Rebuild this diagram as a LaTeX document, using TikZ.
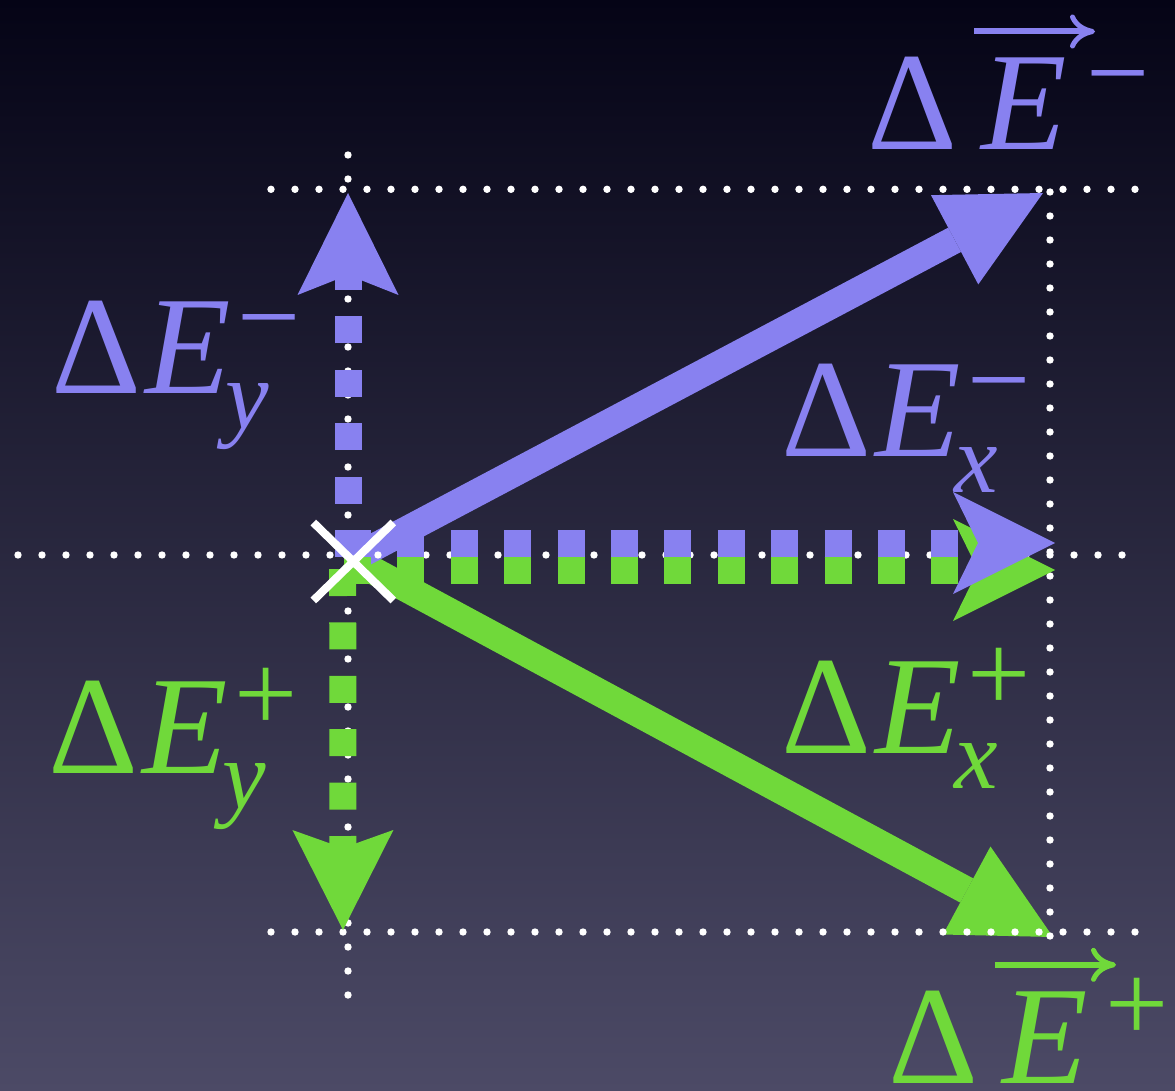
\documentclass[tikz,border=0pt]{standalone}
\usepackage{fontspec}
\newfontfamily\lf{Liberation Serif}
\usetikzlibrary{arrows.meta,shapes.misc}
\definecolor{bcol}{RGB}{136,129,240}
\definecolor{gcol}{RGB}{112,217,58}
\definecolor{bgtop}{RGB}{5,4,22}
\definecolor{bgbot}{RGB}{76,74,102}
\newcommand\Dsz{\fontsize{140}{140}\selectfont}
\newcommand\Ssz{\fontsize{98}{98}\selectfont}
\newcommand\Psz{\fontsize{112}{112}\selectfont}
% #1 E offset, #2 subscript, #3 sub offset, #4 sup sign, #5 sup offset, #6 sup raise
\newcommand\dlabel[6]{\hbox{\lf\Dsz\rlap{Δ}\rlap{\kern#1pt\itshape E}\rlap{\kern#3pt\lower35.5pt\hbox{\Ssz\itshape #2}}\kern#5pt\raise#6pt\hbox{\Psz #4}}}
\tikzset{
  shaft/.style={line width=27.5pt},
  dsh/.style={line width=27pt, dash pattern=on 27pt off 26.4pt},
  dot/.style={fill=white},
  lbl/.style={anchor=base west, inner sep=0pt, outer sep=0pt},
  vecarr/.style={line width=6pt, -{Computer Modern Rightarrow[length=25pt,width=34pt,line width=5pt]}},
}
\begin{document}
\begin{tikzpicture}[x=1pt,y=-1pt]
\useasboundingbox (0,0) rectangle (1175,1091);
\shade[top color=bgtop, bottom color=bgbot] (0,0) rectangle (1175,1091);

% anchor points
\coordinate (bS) at (348,561);
\coordinate (bT) at (1043,193);
\coordinate (gS) at (348,557);
\coordinate (gT) at (1053,937);
\coordinate (bhS) at (344,543);
\coordinate (bhT) at (1055,543);
\coordinate (ghS) at (344,570);
\coordinate (ghT) at (1055,570);
\coordinate (bvS) at (348,557);
\coordinate (bvT) at (348,193);
\coordinate (gvS) at (342.7,569);
\coordinate (gvT) at (343,930);

% solid arrows
\draw[gcol, shaft, -{Triangle[length=98pt,width=100pt,line width=0pt]}] (gS) -- (gT);
\draw[bcol, shaft, -{Triangle[length=100pt,width=101pt,line width=0pt]}] (bS) -- (bT);

% dotted guide lines
\foreach \x in {271,295,...,1135} {\fill[dot] (\x,189.3) circle (3.7); \fill[dot] (\x,932) circle (3.7);}
\foreach \x in {18,42,...,1122} {\fill[dot] (\x,555) circle (3.7);}
\foreach \y in {155,179,...,995} {\fill[dot] (348,\y) circle (3.7);}
\foreach \y in {192,216,...,936} {\fill[dot] (1050,\y) circle (3.7);}

% dashed component arrows
\draw[gcol, dsh, -{Stealth[length=102pt,width=102pt,inset=25pt,line width=0pt]}] (ghS) -- (ghT);
\draw[gcol, dsh, -{Stealth[length=100pt,width=101pt,inset=18pt,line width=0pt]}] (gvS) -- (gvT);
\draw[bcol, dsh, -{Stealth[length=102pt,width=102pt,inset=25pt,line width=0pt]}] (bhS) -- (bhT);
\draw[bcol, dsh, -{Stealth[length=102pt,width=101pt,inset=20pt,line width=0pt]}] (bvS) -- (bvT);

% origin cross
\node[cross out, draw=white, line width=8pt, minimum width=72pt, minimum height=70pt, inner sep=0pt] (o) at (353.3,561.5) {};

% labels
\node[lbl, text=bcol] (Lym) at (51.9,393.3) {\dlabel{94}{y}{174}{−}{186}{39}};
\node[lbl, text=bcol] (Lxm) at (781.9,456.7) {\dlabel{94}{x}{173}{−}{186}{39}};
\node[lbl, text=gcol] (Lyp) at (48.6,773.3) {\dlabel{94}{y}{174}{+}{186}{42}};
\node[lbl, text=gcol] (Lxp) at (781.9,753.3) {\dlabel{94}{x}{173}{+}{186}{42}};
\node[lbl, text=bcol] (L5) at (867.6,150) {\dlabel{114}{}{0}{−}{219}{39}};
\node[lbl, text=gcol] (L6) at (888.6,1083.3) {\dlabel{114}{}{0}{+}{217}{42}};
\draw[bcol, vecarr] ([xshift=106.4pt,yshift=118.5pt]L5.base west) -- ([xshift=227.4pt,yshift=118.5pt]L5.base west);
\draw[gcol, vecarr] ([xshift=106.4pt,yshift=118.5pt]L6.base west) -- ([xshift=227.4pt,yshift=118.5pt]L6.base west);
\end{tikzpicture}
\end{document}
